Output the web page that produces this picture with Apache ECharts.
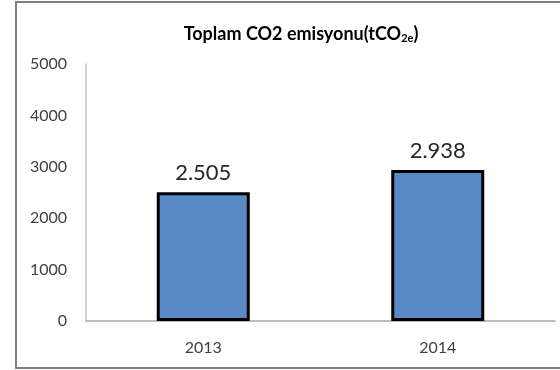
<!DOCTYPE html>
<html>
<head>
<meta charset="utf-8">
<script src="https://cdn.jsdelivr.net/npm/echarts@6/dist/echarts.min.js"></script>
<style>
  html, body { margin: 0; padding: 0; background: #fff; }
  #main { width: 560px; height: 370px; }
</style>
</head>
<body>
<div id="main"></div>
<script>
var years = ['2013', '2014'];
var emissions = [2505, 2938];
var yTicks = [0, 1000, 2000, 3000, 4000, 5000];

// 2505 -> "2.505"
function trNumber(v) {
    return String(v).replace(/\B(?=(\d{3})+(?!\d))/g, '.');
}

var myChart = echarts.init(document.getElementById('main'));
myChart.setOption({
    animation: false,
    textStyle: { fontFamily: 'Lato' },
    title: {
        text: '{t|Toplam CO2 emisyonu(tCO}{s|2e}{t|)}',
        left: 296,
        textAlign: 'center',
        top: 19,
        textStyle: {
            rich: {
                t: { fontFamily: 'Lato', fontWeight: 'bold', fontSize: 18, color: '#000' },
                s: { fontFamily: 'Lato', fontWeight: 'bold', fontSize: 11, color: '#000', padding: [9, 0, 0, 0] }
            }
        }
    },
    graphic: [{
        type: 'rect',
        shape: { x: 16, y: 2, width: 600, height: 366 },
        style: { fill: 'none', stroke: '#7f7f7f', lineWidth: 2 },
        silent: true
    }],
    grid: { left: 86, right: 5, top: 64, bottom: 49 },
    xAxis: {
        type: 'category',
        data: years,
        axisLine: { lineStyle: { color: '#a6a6a6', width: 1.5 } },
        axisTick: { show: false },
        axisLabel: { color: '#404040', fontSize: 16, margin: 19 }
    },
    yAxis: {
        type: 'value',
        min: yTicks[0],
        max: yTicks[yTicks.length - 1],
        interval: 1000,
        axisLine: { show: true, lineStyle: { color: '#bfbfbf', width: 1.5 } },
        axisTick: { show: false },
        splitLine: { show: false },
        axisLabel: {
            color: '#404040', fontSize: 16, margin: 19,
            padding: [5, 0, 0, 0],
            formatter: function (v) { return String(v); }
        }
    },
    series: [{
        type: 'bar',
        data: emissions,
        barWidth: 93,
        itemStyle: { color: '#5a8ac6', borderColor: '#000', borderWidth: 3 },
        label: {
            show: true,
            position: 'top',
            distance: 8,
            fontSize: 22,
            color: '#262626',
            fontFamily: 'Lato',
            formatter: function (p) { return trNumber(p.value); }
        }
    }]
});
</script>
</body>
</html>
